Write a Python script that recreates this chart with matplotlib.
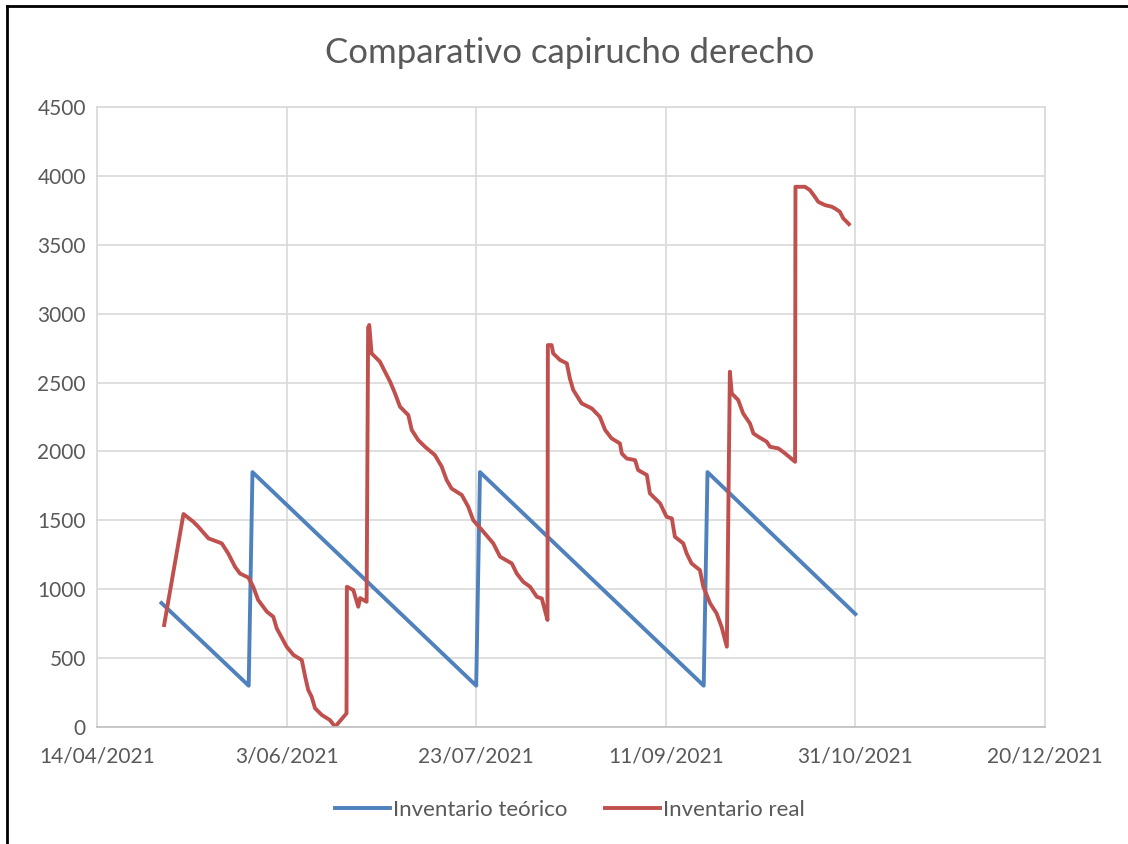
import matplotlib.pyplot as plt
import matplotlib.dates as mdates
from matplotlib.lines import Line2D
from matplotlib.ticker import FuncFormatter, MultipleLocator
import pandas as pd

plt.rcParams['font.family'] = ['Lato', 'DejaVu Sans']

inicio = pd.Timestamp('2021-04-14')

# días desde 14/04/2021 y unidades
dias_teorico = [17, 40, 41, 100, 101, 160, 161, 200]
inv_teorico = [900, 300, 1850, 300, 1850, 300, 1850, 820]

dias_real = [17.7, 22.8, 25.4, 26.7, 29.4, 32.9, 34.6, 36.4, 37.7, 39.9,
             41.2, 42.5, 44.8, 46.5, 47.4, 50.0, 51.8, 54.0, 54.9, 55.7,
             56.6, 57.5, 59.3, 61.4, 62.8, 65.8, 65.9, 67.6, 68.9, 69.4,
             71.1, 71.5, 71.8, 72.4, 74.6, 75.5, 77.3, 78.6, 79.9, 82.1,
             83.0, 84.7, 86.5, 89.1, 90.9, 92.2, 93.5, 96.2, 97.9, 99.2,
             101.5, 104.5, 106.3, 109.4, 110.7, 112.4, 114.2, 116.0, 117.3, 118.1,
             118.8, 118.9, 119.9, 120.3, 122.1, 123.9, 124.7, 125.6, 127.8, 130.5,
             132.6, 134.0, 135.7, 137.9, 138.4, 139.7, 141.9, 142.7, 145.0, 145.8,
             148.5, 150.2, 151.6, 152.4, 154.6, 155.5, 156.8, 159.0, 159.9, 161.7,
             163.4, 164.7, 166.1, 166.9, 167.4, 169.1, 170.4, 172.2, 173.1, 174.4,
             176.6, 177.5, 179.7, 181.5, 184.1, 184.2, 186.7, 188.0, 189.3, 190.2,
             192.0, 193.8, 194.6, 195.9, 196.8, 197.7, 198.3]
inv_real = [740, 1546, 1490, 1454, 1369, 1333, 1260, 1163, 1114, 1085,
            1018, 922, 837, 800, 716, 583, 523, 486, 365, 269,
            220, 136, 87, 51, 2, 99, 1018, 994, 873, 936,
            909, 2900, 2918, 2712, 2652, 2603, 2506, 2421, 2325, 2264,
            2156, 2083, 2034, 1974, 1890, 1793, 1731, 1684, 1599, 1502,
            1430, 1333, 1236, 1187, 1114, 1054, 1018, 945, 933, 849,
            777, 2772, 2772, 2712, 2664, 2639, 2530, 2446, 2349, 2312,
            2252, 2156, 2095, 2058, 1985, 1949, 1937, 1865, 1829, 1696,
            1623, 1526, 1514, 1381, 1333, 1260, 1187, 1139, 1018, 897,
            825, 728, 583, 2579, 2421, 2373, 2276, 2203, 2131, 2107,
            2071, 2034, 2022, 1985, 1925, 3921, 3921, 3897, 3849, 3812,
            3788, 3776, 3764, 3740, 3692, 3667, 3650]

fechas_teorico = inicio + pd.to_timedelta(dias_teorico, unit='D')
fechas_real = inicio + pd.to_timedelta(dias_real, unit='D')

azul = '#4F81BD'
rojo = '#C0504D'
gris = '#595959'

fig = plt.figure(figsize=(11.28, 8.44), dpi=100)
ax = fig.add_axes([0.086, 0.1386, 0.8404, 0.7346])

l1, = ax.plot(fechas_teorico, inv_teorico, color=azul, lw=2.8, solid_joinstyle='round')
l2, = ax.plot(fechas_real, inv_real, color=rojo, lw=2.8, solid_joinstyle='round')

ax.set_xlim(inicio, pd.Timestamp('2021-12-20'))
ax.set_ylim(0, 4500)
ax.yaxis.set_major_locator(MultipleLocator(500))
ticks = [inicio + pd.Timedelta(days=50 * i) for i in range(6)]
ax.set_xticks(ticks)
ax.xaxis.set_major_formatter(FuncFormatter(
    lambda v, p: (lambda d: f"{d.day}/{d.month:02d}/{d.year}")(mdates.num2date(v))))

ax.grid(True, color='#d9d9d9', lw=1.2)
ax.set_axisbelow(True)
for s in ['top', 'right', 'left']:
    ax.spines[s].set_color('#d9d9d9')
    ax.spines[s].set_linewidth(1.2)
ax.spines['bottom'].set_color('#bfbfbf')
ax.spines['bottom'].set_linewidth(1.2)
ax.tick_params(axis='both', length=0, labelsize=15, colors=gris)
ax.tick_params(axis='x', pad=14)
ax.tick_params(axis='y', pad=8)

fig.text(0.505, 0.937, 'Comparativo capirucho derecho', ha='center', va='center',
         fontsize=25, color=gris)

fig.legend([l1, l2], ['Inventario teórico', 'Inventario real'], loc='center',
           bbox_to_anchor=(0.505, 0.04), ncol=2, frameon=False, fontsize=16,
           handlelength=2.5, handletextpad=0.1, columnspacing=1.7,
           labelcolor=gris)

# marco del gráfico (borde izquierdo y superior)
fig.add_artist(Line2D([0.0066, 0.0066], [0, 0.993], color='black', lw=2,
                      transform=fig.transFigure))
fig.add_artist(Line2D([0.0066, 1.0], [0.993, 0.993], color='black', lw=2,
                      transform=fig.transFigure))

fig.savefig('out.png', dpi=100)
